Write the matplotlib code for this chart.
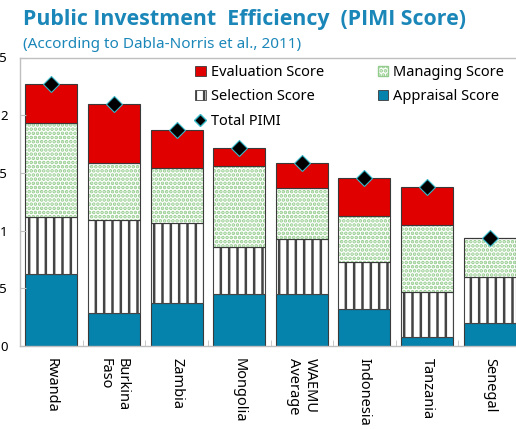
import matplotlib.pyplot as plt
import numpy as np
from matplotlib.patches import Patch
from matplotlib.lines import Line2D

# Data
countries = ['Rwanda', 'Burkina\nFaso', 'Zambia', 'Mongolia', 'WAEMU\nAverage',
             'Indonesia', 'Tanzania', 'Senegal']
appraisal = [0.62, 0.29, 0.37, 0.45, 0.45, 0.32, 0.08, 0.20]
selection = [0.50, 0.80, 0.70, 0.41, 0.48, 0.41, 0.39, 0.40]
managing = [0.81, 0.50, 0.47, 0.70, 0.44, 0.40, 0.58, 0.34]
evaluation = [0.34, 0.51, 0.33, 0.16, 0.22, 0.33, 0.33, 0.00]
total_pimi = [2.27, 2.10, 1.87, 1.72, 1.59, 1.46, 1.38, 0.94]
y_ticks = [0, 0.5, 1, 1.5, 2, 2.5]

# Colours
RED = '#e00000'
BLUE = '#0583ad'
GREEN_DOT = '#93cc8c'
STRIPE = '#444444'
EDGE = '#3a3a3a'
TITLE_COL = '#1b87b9'

plt.rcParams['font.family'] = ['Noto Sans', 'DejaVu Sans']
plt.rcParams['hatch.linewidth'] = 1.8

fig = plt.figure(figsize=(5.16, 4.29), dpi=100)
ax = fig.add_axes([20/516, 1 - 346/429, 501/516, (346 - 57.5)/429])

x = np.arange(len(countries))
w = 0.83
app = np.array(appraisal)
sel = np.array(selection)
man = np.array(managing)
ev = np.array(evaluation)

ax.bar(x, app, w, color=BLUE, edgecolor=EDGE, linewidth=0.8)
ax.bar(x, sel, w, bottom=app, color='white', edgecolor=STRIPE,
       hatch='||', linewidth=0.8)
b2 = app + sel
ax.bar(x, man, w, bottom=b2, color='white', edgecolor=GREEN_DOT,
       hatch='....', linewidth=0)
ax.bar(x, man, w, bottom=b2, color='none', edgecolor=EDGE, linewidth=0.8)
b3 = b2 + man
ax.bar(x, ev, w, bottom=b3, color=RED, edgecolor=EDGE, linewidth=0.8)
ax.plot(x, total_pimi, linestyle='none', marker='D', markersize=8,
        markerfacecolor='black', markeredgecolor='#35b8c8',
        markeredgewidth=0.8, zorder=5)

ax.set_xlim(-0.5, len(countries) - 0.5)
ax.set_ylim(0, 2.5)
ax.set_yticks(y_ticks)
ax.set_yticklabels([f'{t:g}' for t in y_ticks])
ax.tick_params(axis='y', direction='in', length=4, color='#bfbfbf',
               pad=9, labelsize=9.5)
ax.set_xticks(x)
ax.set_xticklabels(countries, rotation=270, ha='center', va='top',
                   multialignment='left', fontsize=10.5)
ax.tick_params(axis='x', which='major', length=0, pad=9)
ax.set_xticks(np.arange(len(countries) + 1) - 0.5, minor=True)
ax.tick_params(axis='x', which='minor', direction='in', length=4,
               color='#bfbfbf')
for s in ax.spines.values():
    s.set_color('#bfbfbf')
    s.set_linewidth(1)

handles = [
    Patch(facecolor=RED, edgecolor=EDGE, linewidth=0.6, label='Evaluation Score'),
    Patch(facecolor='white', edgecolor=STRIPE, hatch='||', linewidth=0.6,
          label='Selection Score'),
    Line2D([], [], linestyle='none', marker='D', markersize=6,
           markerfacecolor='black', markeredgecolor='#35b8c8',
           label='Total PIMI'),
    Patch(facecolor='white', edgecolor=GREEN_DOT, hatch='....',
          label='Managing Score'),
    Patch(facecolor=BLUE, edgecolor=EDGE, linewidth=0.6, label='Appraisal Score'),
]
ax.legend(handles=handles, ncol=2, loc='upper left',
          bbox_to_anchor=(168/501, 1.0), frameon=False, fontsize=10.5,
          handlelength=0.7, handleheight=0.7, handletextpad=0.35,
          columnspacing=3.7, labelspacing=0.65, borderaxespad=0.1)

fig.text(23/516, 1 - 20/429, 'Public Investment  Efficiency  (PIMI Score)',
         fontsize=15.4, fontweight='bold', color=TITLE_COL, va='center',
         family=['Open Sans', 'DejaVu Sans'])
fig.text(23/516, 1 - 44/429, '(According to Dabla-Norris et al., 2011)',
         fontsize=11, color=TITLE_COL, va='center')

fig.savefig('out.png', dpi=100)
